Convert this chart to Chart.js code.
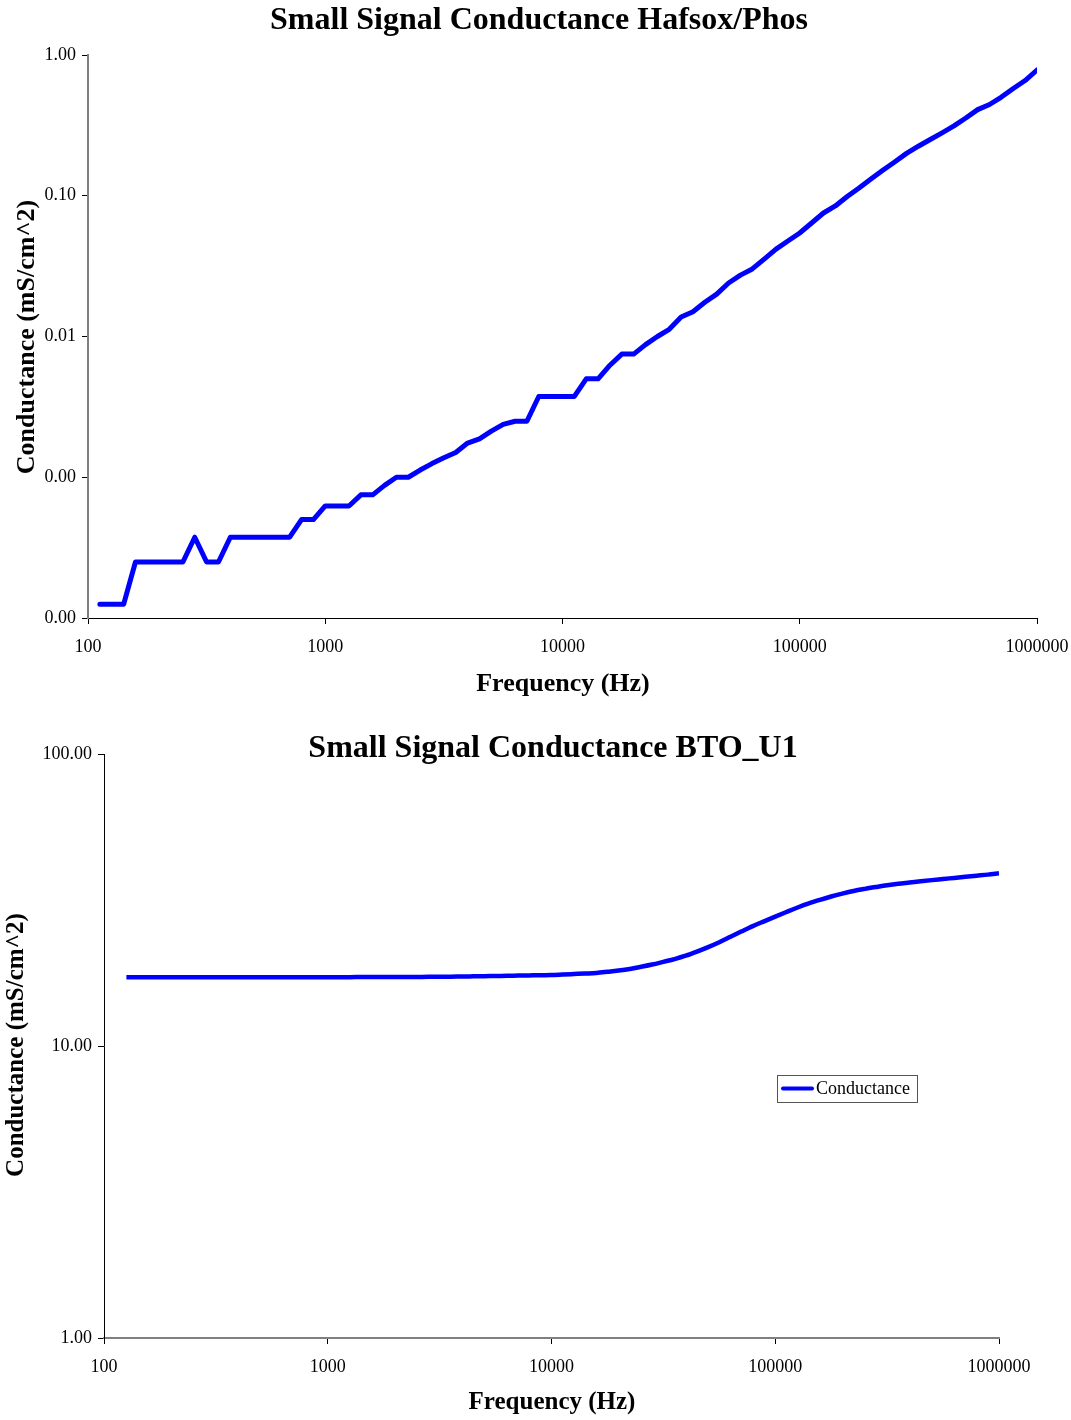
<!DOCTYPE html>
<html>
<head>
<meta charset="utf-8">
<script src="https://cdn.jsdelivr.net/npm/chart.js@4.4.1/dist/chart.umd.min.js"></script>
<style>
  html, body { margin: 0; padding: 0; background: #fff; overflow: hidden; }
  #wrap { position: relative; width: 1071px; height: 1420px; }
  canvas { position: absolute; left: 0; }
  #hafsox { top: 0; }
  #bto { top: 710px; }
</style>
</head>
<body>
<div id="wrap">
  <canvas id="hafsox" width="1071" height="710"></canvas>
  <canvas id="bto" width="1071" height="710"></canvas>
</div>
<script>
// Measurement frequencies (Hz), 20 points per decade
const freqHafsox = [
  112.2, 125.9, 141.3, 158.5, 177.8, 199.5, 223.9, 251.2, 281.8, 316.2,
  354.8, 398.1, 446.7, 501.2, 562.3, 631.0, 707.9, 794.3, 891.3, 1000,
  1122, 1259, 1413, 1585, 1778, 1995, 2239, 2512, 2818, 3162,
  3548, 3981, 4467, 5012, 5623, 6310, 7079, 7943, 8913, 10000,
  11220, 12589, 14125, 15849, 17783, 19953, 22387, 25119, 28184, 31623,
  35481, 39811, 44668, 50119, 56234, 63096, 70795, 79433, 89125, 100000,
  112202, 125893, 141254, 158489, 177828, 199526, 223872, 251189, 281838, 316228,
  354813, 398107, 446684, 501187, 562341, 630957, 707946, 794328, 891251, 1000000
];

// Hafsox/Phos conductance (mS/cm^2)
const condHafsox = [
  0.000125, 0.000125, 0.000125, 0.00025, 0.00025, 0.00025, 0.00025, 0.00025, 0.000375, 0.00025,
  0.00025, 0.000375, 0.000375, 0.000375, 0.000375, 0.000375, 0.000375, 0.0005, 0.0005, 0.000625,
  0.000625, 0.000625, 0.00075, 0.00075, 0.000875, 0.001, 0.001, 0.001125, 0.00125, 0.001375,
  0.0015, 0.00175, 0.001875, 0.002125, 0.002375, 0.0025, 0.0025, 0.00375, 0.00375, 0.00375,
  0.00375, 0.005, 0.005, 0.00625, 0.0075, 0.0075, 0.00875, 0.01, 0.01125, 0.01375,
  0.015, 0.0175, 0.02, 0.024, 0.0273, 0.0302, 0.0355, 0.0418, 0.0477, 0.0544,
  0.064, 0.0754, 0.0846, 0.0988, 0.1135, 0.1315, 0.1516, 0.1737, 0.2, 0.2249,
  0.2509, 0.28, 0.3135, 0.3567, 0.4093, 0.4449, 0.5029, 0.5781, 0.6588, 0.7823
];

const freqBTO = [
  125.9, 141.3, 158.5, 177.8, 199.5, 223.9, 251.2, 281.8, 316.2,
  354.8, 398.1, 446.7, 501.2, 562.3, 631.0, 707.9, 794.3, 891.3, 1000,
  1122, 1259, 1413, 1585, 1778, 1995, 2239, 2512, 2818, 3162,
  3548, 3981, 4467, 5012, 5623, 6310, 7079, 7943, 8913, 10000,
  11220, 12589, 14125, 15849, 17783, 19953, 22387, 25119, 28184, 31623,
  35481, 39811, 44668, 50119, 56234, 63096, 70795, 79433, 89125, 100000,
  112202, 125893, 141254, 158489, 177828, 199526, 223872, 251189, 281838, 316228,
  354813, 398107, 446684, 501187, 562341, 630957, 707946, 794328, 891251, 1000000
];

// BTO_U1 conductance (mS/cm^2)
const condBTO = [
  17.19, 17.19, 17.19, 17.19, 17.19, 17.19, 17.19, 17.19, 17.20,
  17.20, 17.20, 17.20, 17.20, 17.20, 17.20, 17.20, 17.20, 17.21, 17.21,
  17.21, 17.21, 17.22, 17.22, 17.22, 17.22, 17.23, 17.24, 17.25, 17.26,
  17.27, 17.30, 17.32, 17.34, 17.37, 17.39, 17.42, 17.45, 17.48, 17.50,
  17.57, 17.64, 17.71, 17.79, 17.95, 18.13, 18.36, 18.67, 19.01, 19.42,
  19.85, 20.38, 21.05, 21.81, 22.67, 23.67, 24.70, 25.74, 26.73, 27.74,
  28.77, 29.81, 30.79, 31.67, 32.51, 33.26, 33.95, 34.52, 35.04, 35.54,
  35.96, 36.30, 36.65, 36.99, 37.31, 37.64, 37.97, 38.30, 38.63, 39.03
];

// Axis ticks and their printed labels
const freqTicks = [100, 1000, 10000, 100000, 1000000];
const freqTickLabels = ['100', '1000', '10000', '100000', '1000000'];
const hafsoxTicks = [0.0001, 0.001, 0.01, 0.1, 1];
const hafsoxTickLabels = ['0.00', '0.00', '0.01', '0.10', '1.00'];
const btoTicks = [1, 10, 100];
const btoTickLabels = ['1.00', '10.00', '100.00'];

const SERIF = "'Liberation Serif', 'Times New Roman', serif";
const BLUE = '#0000FF';

// Draws free-placed captions (titles, axis names) and an optional boxed legend
const textLayer = {
  id: 'textLayer',
  afterDraw(chart, args, opts) {
    const ctx = chart.ctx;
    (opts.items || []).forEach(t => {
      ctx.save();
      ctx.font = t.font;
      ctx.fillStyle = '#000';
      ctx.textAlign = 'center';
      ctx.textBaseline = 'middle';
      ctx.translate(t.x, t.y);
      if (t.rotate) ctx.rotate(t.rotate);
      ctx.fillText(t.text, 0, 0);
      ctx.restore();
    });
    const lg = opts.legend;
    if (lg) {
      const ds = chart.data.datasets[0];
      ctx.save();
      ctx.fillStyle = '#fff';
      ctx.fillRect(lg.x, lg.y, lg.w, lg.h);
      ctx.strokeStyle = '#555';
      ctx.lineWidth = 1;
      ctx.strokeRect(lg.x + 0.5, lg.y + 0.5, lg.w, lg.h);
      const my = lg.y + lg.h / 2;
      ctx.strokeStyle = ds.borderColor;
      ctx.lineWidth = 4;
      ctx.lineCap = 'round';
      ctx.beginPath();
      ctx.moveTo(lg.x + 6, my);
      ctx.lineTo(lg.x + 35, my);
      ctx.stroke();
      ctx.fillStyle = '#000';
      ctx.font = '18px ' + SERIF;
      ctx.textAlign = 'left';
      ctx.textBaseline = 'middle';
      ctx.fillText(ds.label, lg.x + 39, my + 1);
      ctx.restore();
    }
  }
};

function logAxis(ticks, labels, opt) {
  return {
    type: 'logarithmic',
    min: ticks[0],
    max: ticks[ticks.length - 1],
    afterBuildTicks: s => { s.ticks = ticks.map(v => ({ value: v })); },
    afterFit: s => {
      if (opt.width !== undefined) s.width = opt.width;
      if (opt.height !== undefined) s.height = opt.height;
      // let the layout padding alone decide where the plot area ends
      s.paddingLeft = 0; s.paddingRight = 0;
      s.paddingTop = 0; s.paddingBottom = 0;
    },
    border: { display: true, color: opt.lineColor, width: opt.lineWidth },
    grid: {
      drawOnChartArea: false,
      drawTicks: true,
      tickLength: 6,
      tickColor: '#000',
      tickWidth: 1
    },
    ticks: {
      autoSkip: false,
      maxRotation: 0,
      color: '#000',
      padding: opt.pad,
      font: { family: SERIF, size: opt.fontSize },
      callback: (v, i) => labels[i]
    }
  };
}

function makeChart(id, cfg) {
  return new Chart(document.getElementById(id), {
    type: 'line',
    data: {
      datasets: [{
        label: 'Conductance',
        data: cfg.x.map((f, i) => ({ x: f, y: cfg.y[i] })),
        borderColor: BLUE,
        borderWidth: cfg.lineWidth,
        borderCapStyle: cfg.cap,
        borderJoinStyle: 'round',
        pointRadius: 0,
        tension: 0,
        cubicInterpolationMode: cfg.smooth ? 'monotone' : 'default',
        fill: false
      }]
    },
    options: {
      responsive: false,
      animation: false,
      devicePixelRatio: 1,
      layout: { padding: cfg.padding },
      plugins: {
        legend: { display: false },
        title: { display: false },
        tooltip: { enabled: false },
        textLayer: { items: cfg.texts, legend: cfg.legend }
      },
      scales: {
        x: logAxis(freqTicks, freqTickLabels, cfg.xAxis),
        y: logAxis(cfg.yTicks, cfg.yLabels, cfg.yAxis)
      }
    },
    plugins: [textLayer]
  });
}

// Upper panel: Hafsox/Phos
makeChart('hafsox', {
  x: freqHafsox,
  y: condHafsox,
  lineWidth: 5,
  cap: 'round',
  smooth: false,
  padding: { top: 55, right: 34, bottom: 0, left: 0 },
  yTicks: hafsoxTicks,
  yLabels: hafsoxTickLabels,
  xAxis: { height: 92, lineColor: '#000', lineWidth: 1, pad: 12, fontSize: 18 },
  yAxis: { width: 88, lineColor: '#808080', lineWidth: 2, pad: 6, fontSize: 18 },
  texts: [
    { text: 'Small Signal Conductance Hafsox/Phos', x: 539, y: 21, font: 'bold 32px ' + SERIF },
    { text: 'Conductance (mS/cm^2)', x: 27, y: 337, rotate: -Math.PI / 2, font: 'bold 26px ' + SERIF },
    { text: 'Frequency (Hz)', x: 563, y: 684, font: 'bold 26px ' + SERIF }
  ]
});

// Lower panel: BTO_U1
makeChart('bto', {
  x: freqBTO,
  y: condBTO,
  lineWidth: 4.5,
  cap: 'butt',
  smooth: true,
  padding: { top: 44, right: 72, bottom: 0, left: 0 },
  yTicks: btoTicks,
  yLabels: btoTickLabels,
  xAxis: { height: 82, lineColor: '#808080', lineWidth: 2, pad: 12, fontSize: 18 },
  yAxis: { width: 104, lineColor: '#000', lineWidth: 1, pad: 6, fontSize: 18 },
  texts: [
    { text: 'Small Signal Conductance BTO_U1', x: 553, y: 39, font: 'bold 32px ' + SERIF },
    { text: 'Conductance (mS/cm^2)', x: 17, y: 335, rotate: -Math.PI / 2, font: 'bold 25px ' + SERIF },
    { text: 'Frequency (Hz)', x: 552, y: 693, font: 'bold 25px ' + SERIF }
  ],
  legend: { x: 777, y: 365, w: 140, h: 27 }
});
</script>
</body>
</html>
